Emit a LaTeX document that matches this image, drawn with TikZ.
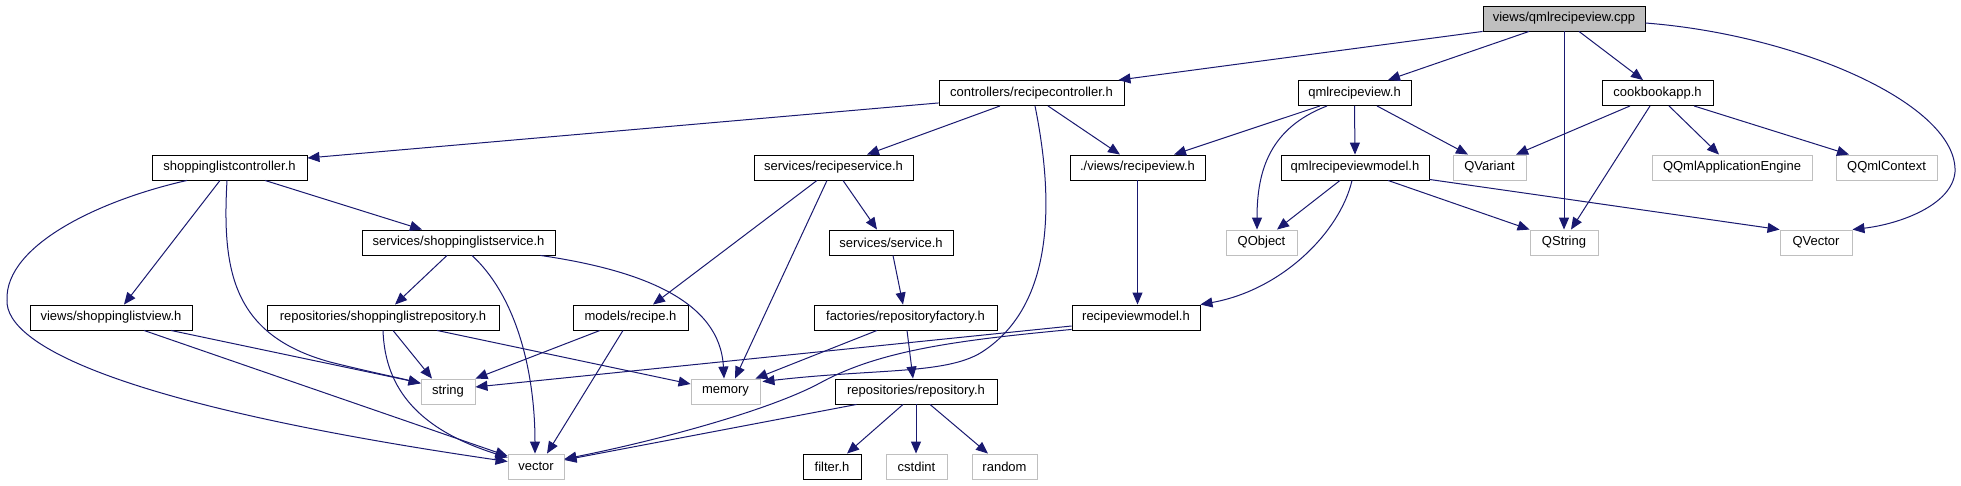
\documentclass[tikz,border=0pt]{standalone}
\usepackage{fontspec}
\setmainfont{Liberation Sans}
\usetikzlibrary{arrows.meta,calc}
\definecolor{edgec}{HTML}{191970}
\definecolor{extc}{HTML}{BFBFBF}
\begin{document}
\begin{tikzpicture}[x=1pt,y=-1pt,
  box/.style={draw=black,fill=white,line width=0.9pt,minimum height=25,inner sep=0pt,font=\fontsize{13}{14}\selectfont},
  hdr/.style={box},
  ext/.style={box,draw=extc},
  rootbox/.style={box,fill=extc},
  edge/.style={draw=edgec,line width=1pt,-{Triangle[length=12pt,width=10pt]}}]
\useasboundingbox[fill=white] (0,0) rectangle (1961,485);
% nodes
\node[rootbox,minimum width=162] (root) at (1564,18.5) {views/qmlrecipeview.cpp};
\node[hdr,minimum width=185] (rc) at (1031.5,93) {controllers/recipecontroller.h};
\node[hdr,minimum width=113] (qv) at (1354.5,93) {qmlrecipeview.h};
\node[hdr,minimum width=111] (cb) at (1657.5,93) {cookbookapp.h};
\node[hdr,minimum width=155] (slc) at (229.5,167.5) {shoppinglistcontroller.h};
\node[hdr,minimum width=159] (rs) at (833.5,167.5) {services/recipeservice.h};
\node[hdr,minimum width=135] (rv) at (1137.5,167.5) {./views/recipeview.h};
\node[hdr,minimum width=148] (qvm) at (1355,167.5) {qmlrecipeviewmodel.h};
\node[ext,minimum width=73] (qvariant) at (1489.5,167.5) {QVariant};
\node[ext,minimum width=160] (qqae) at (1732,167.5) {QQmlApplicationEngine};
\node[ext,minimum width=101] (qqc) at (1886.5,167.5) {QQmlContext};
\node[hdr,minimum width=193] (sls) at (458.5,242.5) {services/shoppinglistservice.h};
\node[hdr,minimum width=124] (ss) at (891,242.5) {services/service.h};
\node[ext,minimum width=71] (qobject) at (1261.5,242.5) {QObject};
\node[ext,minimum width=68] (qstring) at (1564,242.5) {QString};
\node[ext,minimum width=72] (qvector) at (1816,242.5) {QVector};
\node[hdr,minimum width=162] (slv) at (111,317.5) {views/shoppinglistview.h};
\node[hdr,minimum width=232] (slr) at (383,317.5) {repositories/shoppinglistrepository.h};
\node[hdr,minimum width=115] (mr) at (630.5,317.5) {models/recipe.h};
\node[hdr,minimum width=183] (rf) at (905.5,317.5) {factories/repositoryfactory.h};
\node[hdr,minimum width=128] (rvm) at (1136,317.5) {recipeviewmodel.h};
\node[ext,minimum width=54] (string) at (448,391.5) {string};
\node[ext,minimum width=69] (memory) at (725.5,391.5) {memory};
\node[hdr,minimum width=162] (repo) at (916,391.5) {repositories/repository.h};
\node[ext,minimum width=56] (vector) at (536,466.5) {vector};
\node[hdr,minimum width=58] (filter) at (832,466.5) {filter.h};
\node[ext,minimum width=61] (cstdint) at (916.5,466.5) {cstdint};
\node[ext,minimum width=65] (random) at (1004.5,466.5) {random};
% edges from root
\draw[edge] (root.south west) -- ($(rc.north east)+(-6,0)$);
\draw[edge] ($(root.south)+(-35,0)$) -- ($(qv.north)+(33.5,0)$);
\draw[edge] (root.south) -- (qstring.north);
\draw[edge] ($(root.south)+(15,0)$) -- ($(cb.north)+(-14.5,0)$);
\draw[edge] ($(root.east)+(0,4.5)$) .. controls (1800,35) and (1958,105) .. (1955,172) .. controls (1952,205) and (1900,224) .. (qvector.north east);
% rc
\draw[edge] ($(rc.south west)+(0,-3)$) -- ($(slc.east)+(0,-9.5)$);
\draw[edge] ($(rc.south)+(-31.5,0)$) -- ($(rs.north)+(33.5,0)$);
\draw[edge] ($(rc.south)+(16.5,0)$) -- ($(rv.north)+(-17.5,0)$);
\draw[edge] ($(rc.south)+(3.5,0)$) .. controls (1052,190) and (1058,300) .. (985,350) .. controls (950,375) and (880,368) .. ($(memory.north east)+(2,3)$);
% qv
\draw[edge] ($(qv.south)+(-34.5,0)$) -- ($(rv.north)+(36.5,0)$);
\draw[edge] ($(qv.south)+(-27.5,0)$) .. controls (1270,128) and (1257,170) .. ($(qobject.north)+(-4.5,0)$);
\draw[edge] (qv.south) -- (qvm.north);
\draw[edge] ($(qv.south)+(22.5,0)$) -- ($(qvariant.north)+(-21.5,0)$);
% cb
\draw[edge] ($(cb.south)+(-27.5,0)$) -- ($(qvariant.north)+(26.5,0)$);
\draw[edge] ($(cb.south)+(-7.5,0)$) -- ($(qstring.north)+(7,0)$);
\draw[edge] ($(cb.south)+(11.5,0)$) -- ($(qqae.north)+(-13,0)$);
\draw[edge] ($(cb.south)+(36.5,0)$) -- ($(qqc.north)+(-37.5,0)$);
% qvm
\draw[edge] ($(qvm.south)+(-15,0)$) -- ($(qobject.north)+(15.5,0)$);
\draw[edge] ($(qvm.south)+(-3,0)$) .. controls (1340,232) and (1282,290) .. (rvm.north east);
\draw[edge] ($(qvm.south)+(33,0)$) -- (qstring.north west);
\draw[edge] ($(qvm.south east)+(0,-1)$) -- (qvector.north west);
% rv
\draw[edge] (rv.south) -- (rv.south |- rvm.north);
% rvm
\draw[edge] ($(rvm.west)+(0,8.5)$) -- ($(string.east)+(0,-4.5)$);
\draw[edge] ($(rvm.south west)+(0,-1)$) .. controls (960,340) and (880,350) .. (820,383) .. controls (770,410) and (660,440) .. ($(vector.east)+(0,-7.5)$);
% slc
\draw[edge] ($(slc.south)+(-9.5,0)$) -- ($(slv.north)+(13,0)$);
\draw[edge] ($(slc.south)+(35.5,0)$) -- ($(sls.north)+(-36.5,0)$);
\draw[edge] ($(slc.south)+(-2.5,0)$) .. controls (222,270) and (232,335) .. (330,362) .. controls (370,372) and (400,378) .. ($(string.west)+(0,-8)$);
\draw[edge] ($(slc.south)+(-42.5,0)$) .. controls (100,200) and (5,245) .. (7,300) .. controls (5,345) and (120,405) .. ($(vector.west)+(0,-5)$);
% sls
\draw[edge] ($(sls.south)+(-11.5,0)$) -- ($(slr.north)+(12,0)$);
\draw[edge] ($(sls.south)+(13.5,0)$) .. controls (520,300) and (535,380) .. ($(vector.north)+(-1,0)$);
\draw[edge] ($(sls.south east)+(-15,0)$) .. controls (640,270) and (720,300) .. ($(memory.north)+(-1.5,0)$);
% slv
\draw[edge] ($(slv.south)+(60,0)$) -- ($(string.west)+(0,-8.5)$);
\draw[edge] ($(slv.south)+(33,0)$) -- ($(vector.west)+(0,-10.5)$);
% slr
\draw[edge] ($(slr.south)+(10,0)$) -- ($(string.north)+(-16,0)$);
\draw[edge] (slr.south) .. controls (385,390) and (420,430) .. ($(vector.west)+(0,-9)$);
\draw[edge] ($(slr.south)+(54,0)$) -- ($(memory.west)+(0,-7.5)$);
% rs
\draw[edge] ($(rs.south)+(-16.5,0)$) -- ($(mr.north)+(22.5,0)$);
\draw[edge] ($(rs.south)+(-6.5,0)$) -- ($(memory.north)+(9.5,0)$);
\draw[edge] ($(rs.south)+(9.5,0)$) -- ($(ss.north)+(-14,0)$);
% mr
\draw[edge] ($(mr.south)+(-30.5,0)$) -- (string.north east);
\draw[edge] ($(mr.south)+(-7.5,0)$) -- ($(vector.north)+(11,0)$);
% ss, rf
\draw[edge] ($(ss.south)+(2,0)$) -- ($(rf.north)+(-2.5,0)$);
\draw[edge] ($(rf.south)+(-28.5,0)$) -- ($(memory.north east)+(-5,0)$);
\draw[edge] ($(rf.south)+(1.5,0)$) -- ($(repo.north)+(-3,0)$);
% repo
\draw[edge] ($(repo.south west)+(22,0)$) -- ($(vector.east)+(0,-6.5)$);
\draw[edge] ($(repo.south)+(-13,0)$) -- ($(filter.north)+(15,0)$);
\draw[edge] (repo.south) -- (repo.south |- cstdint.north);
\draw[edge] ($(repo.south)+(14,0)$) -- ($(random.north)+(-16.5,0)$);
\end{tikzpicture}
\end{document}
